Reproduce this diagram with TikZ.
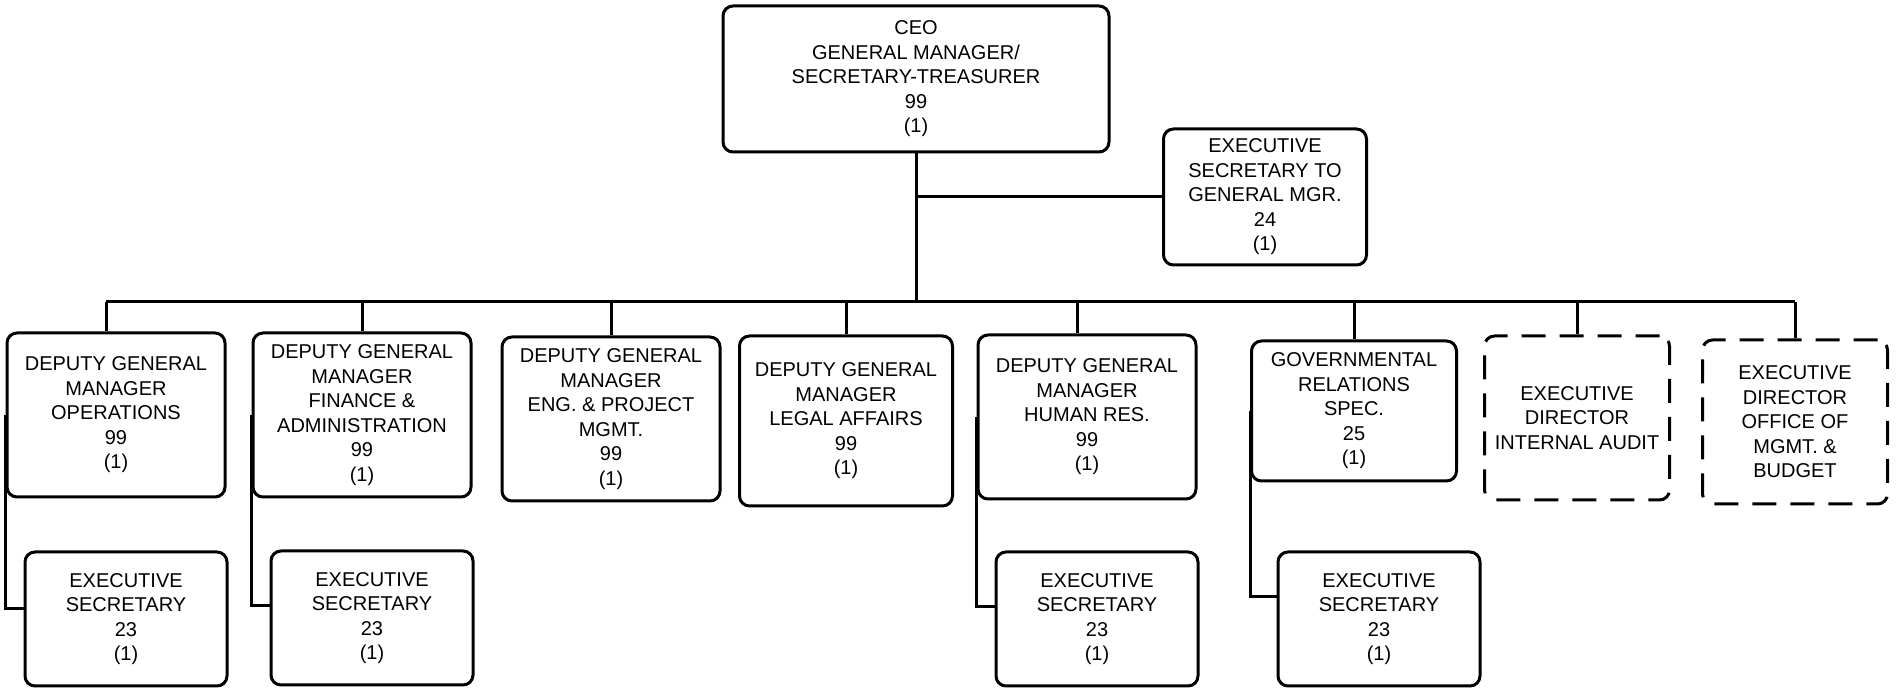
\documentclass[tikz,border=0pt]{standalone}
\usepackage{fontspec}
\setmainfont{Liberation Sans}
\usetikzlibrary{positioning}

\begin{document}
\begin{tikzpicture}[
    x=0.5pt, y=-0.5pt,
    every node/.style={draw, line width=1.5pt, rounded corners=5pt, align=center, inner sep=2pt,
      font=\fontsize{10}{12.25}\selectfont},
    post/.style={minimum width=109pt, minimum height=82pt},
    sec/.style={minimum width=101pt, minimum height=67pt},
    vacant/.style={post, minimum width=92.5pt, dash pattern=on 12pt off 7pt},
    link/.style={line width=1.5pt}
  ]
  \useasboundingbox (0,0) rectangle (1896,688);

  % Top of the chart
  \node (ceo) [minimum width=193pt, minimum height=73pt] at (916,79)
    {CEO\\GENERAL MANAGER/\\SECRETARY-TREASURER\\99\\(1)};
  \node (esgm) [minimum width=101.5pt, minimum height=68pt] at (1265,197)
    {EXECUTIVE\\SECRETARY TO\\GENERAL MGR.\\24\\(1)};

  % Second row
  \node (op) [post] at (116,415) {DEPUTY GENERAL\\MANAGER\\OPERATIONS\\99\\(1)};
  \node (fin) [post] at (362,415) {DEPUTY GENERAL\\MANAGER\\FINANCE \&\\ADMINISTRATION\\99\\(1)};
  \node (eng) [post] at (611,419) {DEPUTY GENERAL\\MANAGER\\ENG. \& PROJECT\\MGMT.\\99\\(1)};
  \node (legal) [post, minimum width=106.5pt, minimum height=85pt] at (846,421)
    {DEPUTY GENERAL\\MANAGER\\LEGAL AFFAIRS\\99\\(1)};
  \node (hr) [post] at (1087,417) {DEPUTY GENERAL\\MANAGER\\HUMAN RES.\\99\\(1)};
  \node (gov) [post, minimum width=102.5pt, minimum height=70pt] at (1354,411)
    {GOVERNMENTAL\\RELATIONS\\SPEC.\\25\\(1)};
  \node (audit) [vacant] at (1577,418) {EXECUTIVE\\DIRECTOR\\INTERNAL AUDIT};
  \node (omb) [vacant] at (1795,422) {EXECUTIVE\\DIRECTOR\\OFFICE OF\\MGMT. \&\\BUDGET};

  % Secretaries
  \node (opsec) [sec] at (126,619) {EXECUTIVE\\SECRETARY\\23\\(1)};
  \node (finsec) [sec] at (372,618) {EXECUTIVE\\SECRETARY\\23\\(1)};
  \node (hrsec) [sec] at (1097,619) {EXECUTIVE\\SECRETARY\\23\\(1)};
  \node (govsec) [sec] at (1379,619) {EXECUTIVE\\SECRETARY\\23\\(1)};

  % Lines
  \coordinate (bus) at (0,302);
  \draw[link] (ceo.south) -- (ceo.south |- bus);
  \draw[link] (ceo.south |- esgm.west) -- (esgm.west);
  \draw[link] ([xshift=-5pt]op.north |- bus) -- (omb.north |- bus);
  \draw[link] ([xshift=-5pt]op.north |- bus) -- ([xshift=-5pt]op.north);
  \draw[link] ([xshift=-5pt]hr.north |- bus) -- ([xshift=-5pt]hr.north);
  \foreach \d in {fin,eng,legal,gov,audit,omb}
    \draw[link] (\d.north |- bus) -- (\d.north);

  \draw[link] (op.west) |- ([yshift=5pt]opsec.west);
  \draw[link] (fin.west) |- ([yshift=6pt]finsec.west);
  \draw[link] (hr.west) |- ([yshift=6pt]hrsec.west);
  \draw[link] (gov.west) |- ([yshift=11pt]govsec.west);
\end{tikzpicture}
\end{document}
